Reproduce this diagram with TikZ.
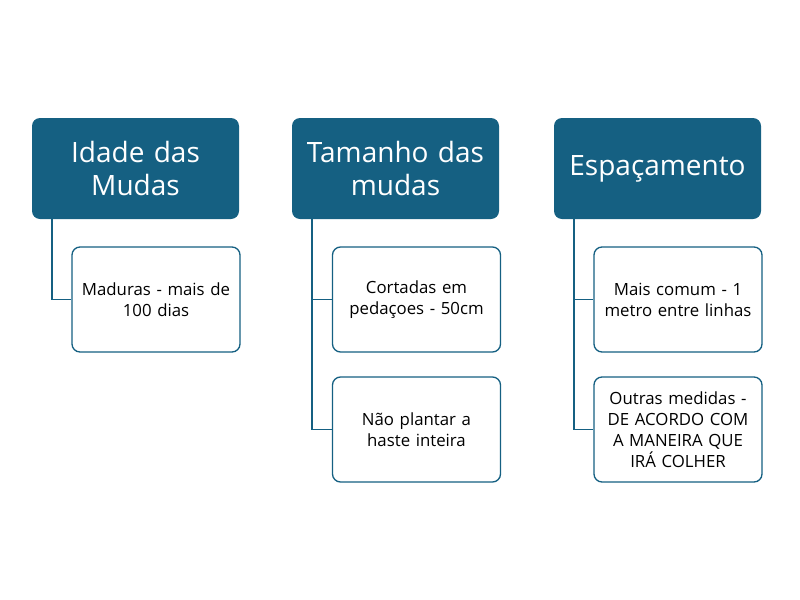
\documentclass[tikz,border=0pt]{standalone}
\usepackage{fontspec}
\setmainfont{Open Sans}
\definecolor{tealblue}{HTML}{156082}

\begin{document}
\begin{tikzpicture}[
        x=0.75pt, y=-0.75pt,
        header/.style={rectangle, rounded corners=6pt, fill=tealblue, text=white,
            minimum width=155.25pt, minimum height=75.75pt, text width=150pt,
            align=center, font=\fontsize{21}{25}\selectfont, inner sep=0pt},
        item/.style={rectangle, rounded corners=6pt, draw=tealblue, line width=1pt, fill=white,
            minimum width=126pt, minimum height=78.75pt, text width=122pt,
            align=center, font=\fontsize{12.6}{15.8}\selectfont, inner sep=0pt},
        link/.style={draw=tealblue, line width=1.3pt}
        ]
            \useasboundingbox (0, 0) rectangle (800, 600);

            % headers
            \node[header] (idade) at (135.5, 168.5) {Idade das\\Mudas};
            \node[header] (tamanho) at (395.5, 168.5) {Tamanho das\\mudas};
            \node[header] (espaco) at (657.5, 168.5) {Espaçamento};

            % items
            \node[item] (maduras) at (156, 299.5) {Maduras - mais de\\100 dias};
            \node[item] (cortadas) at (416.5, 299.5) {Cortadas em\\pedaçoes - 50cm};
            \node[item] (haste) at (416.5, 429.5) {Não plantar a\\haste inteira};
            \node[item] (comum) at (678, 299.5) {Mais comum - 1\\metro entre linhas};
            \node[item] (outras) at (678, 429.5) {Outras medidas -\\DE ACORDO COM\\A MANEIRA QUE\\IRÁ COLHER};

            % connectors
            \draw[link] ([xshift=15pt]idade.south west) |- (maduras.west);
            \draw[link] ([xshift=15pt]tamanho.south west) |- (cortadas.west);
            \draw[link] ([xshift=15pt]tamanho.south west) |- (haste.west);
            \draw[link] ([xshift=15pt]espaco.south west) |- (comum.west);
            \draw[link] ([xshift=15pt]espaco.south west) |- (outras.west);
        \end{tikzpicture}
\end{document}
